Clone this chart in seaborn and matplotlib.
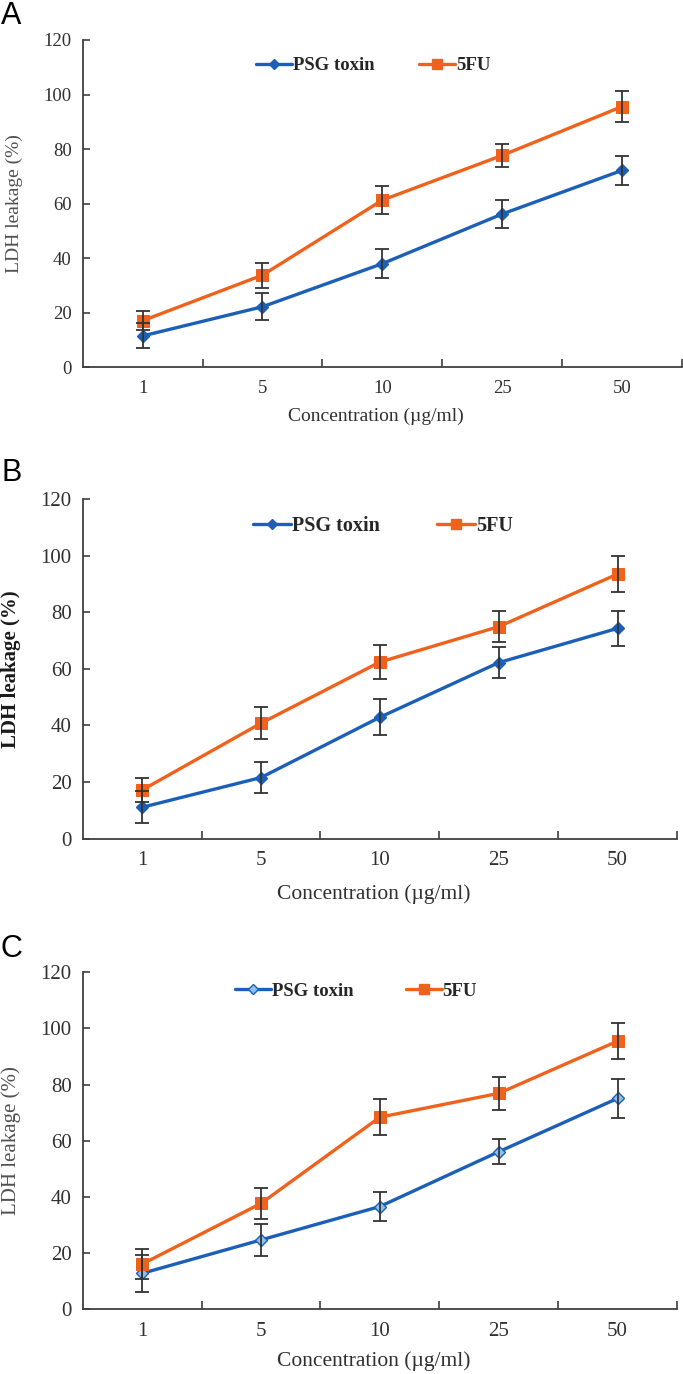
import numpy as np
import pandas as pd
import matplotlib
matplotlib.use("Agg")
import matplotlib.pyplot as plt
import seaborn as sns
from matplotlib.lines import Line2D

sns.set_style("white")
plt.rcParams['font.family'] = ['Liberation Serif', 'DejaVu Serif']

# ---------------- data ----------------
concentrations = ["1", "5", "10", "25", "50"]
series_names = ["PSG toxin", "5FU"]

a_psg = [11.5, 22.2, 38.0, 56.2, 72.2]
a_psg_err = [4.6, 5.0, 5.3, 5.3, 5.2]
a_5fu = [17.1, 33.8, 61.3, 77.7, 95.6]
a_5fu_err = [3.6, 4.6, 5.2, 4.3, 5.7]

b_psg = [11.1, 21.6, 42.9, 62.2, 74.3]
b_psg_err = [5.7, 5.4, 6.4, 5.4, 6.2]
b_5fu = [17.2, 40.8, 62.4, 74.9, 93.5]
b_5fu_err = [4.4, 5.7, 6.1, 5.5, 6.2]

c_psg = [12.8, 24.7, 36.6, 56.1, 75.1]
c_psg_err = [6.5, 5.8, 5.3, 4.5, 6.9]
c_5fu = [16.1, 37.7, 68.4, 76.9, 95.5]
c_5fu_err = [5.4, 5.6, 6.5, 5.8, 6.4]

panel_labels = ["A", "B", "C"]
xlabel_text = "Concentration (\u00b5g/ml)"
ylabel_text = "LDH leakage (%)"
yticks = [0, 20, 40, 60, 80, 100, 120]

BLUE = "#1c5fb8"
ORANGE = "#f0621c"
LIGHTBLUE = "#8fc0ea"
ERR = "#333333"
SPINE = "#404040"

W, H = 683, 1374
fig = plt.figure(figsize=(W / 100, H / 100), dpi=100)

# panel geometry in pixels: (left, right, top(120), bottom(0))
geom = [
    (82.7, 682.0, 40.0, 367.3),
    (82.7, 677.0, 499.0, 838.7),
    (82.7, 677.0, 972.3, 1309.3),
]

cfg = [
    dict(psg=a_psg, psge=a_psg_err, fu=a_5fu, fue=a_5fu_err, tick=13.5, leg=13.5, xl=14,
         yl=14, ylw="normal", ylc="#505050", legxy=(0.485, 0.921), colsp=2.4, psg_face=BLUE,
         xly=-0.122, yly=-0.100, lab_base=24),
    dict(psg=b_psg, psge=b_psg_err, fu=b_5fu, fue=b_5fu_err, tick=15, leg=14.5, xl=15.5,
         yl=15, ylw="bold", ylc="#1a1a1a", legxy=(0.505, 0.921), colsp=2.8, psg_face=BLUE,
         xly=-0.134, yly=-0.104, lab_base=480.7),
    dict(psg=c_psg, psge=c_psg_err, fu=c_5fu, fue=c_5fu_err, tick=15, leg=13.5, xl=15.5,
         yl=15, ylw="normal", ylc="#505050", legxy=(0.46, 0.944), colsp=2.8, psg_face=LIGHTBLUE,
         xly=-0.124, yly=-0.104, lab_base=956.7),
]

for i, (g, c) in enumerate(zip(geom, cfg)):
    l, r, t, b = g
    ax = fig.add_axes([l / W, 1 - b / H, (r - l) / W, (b - t) / H])

    df = pd.DataFrame({
        "conc": concentrations * 2,
        "value": list(c["psg"]) + list(c["fu"]),
        "series": [series_names[0]] * 5 + [series_names[1]] * 5,
    })
    d1 = df[df.series == series_names[0]]
    d2 = df[df.series == series_names[1]]

    sns.lineplot(data=d1, x="conc", y="value", sort=False, ax=ax, color=BLUE, lw=2.4,
                 marker="D", markersize=6, markerfacecolor=c["psg_face"],
                 markeredgecolor=BLUE, markeredgewidth=1.0, zorder=3)
    sns.lineplot(data=d2, x="conc", y="value", sort=False, ax=ax, color=ORANGE, lw=2.4,
                 marker="s", markersize=8.5, markerfacecolor=ORANGE,
                 markeredgecolor=ORANGE, zorder=3)
    ax.errorbar(concentrations, c["psg"], yerr=c["psge"], fmt="none", ecolor=ERR,
                elinewidth=1.3, capsize=5, capthick=1.3, zorder=4)
    ax.errorbar(concentrations, c["fu"], yerr=c["fue"], fmt="none", ecolor=ERR,
                elinewidth=1.3, capsize=5, capthick=1.3, zorder=4)

    ax.set_xlim(-0.5, 4.5)
    ax.set_ylim(0, 120)
    ax.set_yticks(yticks)
    ax.set_xticks(range(5))
    ax.set_xticklabels(concentrations)
    ax.set_xticks([0.5, 1.5, 2.5, 3.5, 4.5], minor=True)

    for sp in ["top", "right"]:
        ax.spines[sp].set_visible(False)
    for sp in ["left", "bottom"]:
        ax.spines[sp].set_color(SPINE)
        ax.spines[sp].set_linewidth(1.3)

    ax.tick_params(axis="y", which="major", direction="in", length=5, width=1.2,
                   color=SPINE, labelsize=c["tick"], labelcolor="#303030", pad=8, left=True)
    ax.tick_params(axis="x", which="major", length=0, labelsize=c["tick"],
                   labelcolor="#303030", pad=9, bottom=True)
    ax.tick_params(axis="x", which="minor", direction="in", length=6, width=1.2,
                   color=SPINE, bottom=True)

    ax.set_xlabel(xlabel_text, fontsize=c["xl"], color="#303030")
    ax.xaxis.set_label_coords(0.49, c["xly"])
    ax.set_ylabel(ylabel_text, fontsize=c["yl"], fontweight=c["ylw"], color=c["ylc"])
    ax.yaxis.set_label_coords(c["yly"], 0.5)

    handles = [
        Line2D([], [], color=BLUE, lw=2.4, marker="D", markersize=5,
               markerfacecolor=c["psg_face"], markeredgecolor=BLUE),
        Line2D([], [], color=ORANGE, lw=2.4, marker="s", markersize=7,
               markerfacecolor=ORANGE, markeredgecolor=ORANGE),
    ]
    ax.legend(handles, series_names, loc="center", bbox_to_anchor=c["legxy"],
              ncol=2, frameon=False, handlelength=1.9, handletextpad=0.05,
              columnspacing=c["colsp"], prop={"size": c["leg"], "weight": "bold"})

    fig.text(1 / W, 1 - c["lab_base"] / H, panel_labels[i], fontsize=22,
             family="Liberation Sans", va="baseline", ha="left", color="black")

fig.savefig("out.png", dpi=100)
